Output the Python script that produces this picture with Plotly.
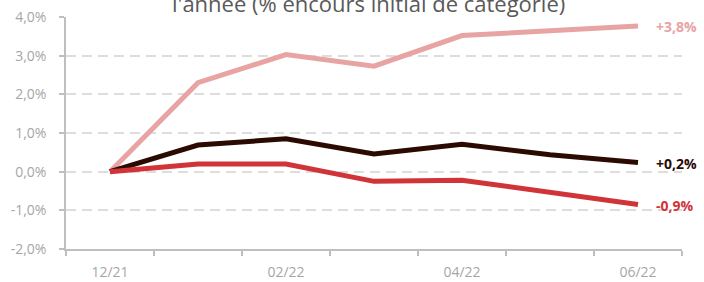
import plotly.graph_objects as go

months = ["12/21", "01/22", "02/22", "03/22", "04/22", "05/22", "06/22"]
tick_labels = ["12/21", "", "02/22", "", "04/22", "", "06/22"]
series_pink = [0.0, 2.30, 3.03, 2.73, 3.52, 3.63, 3.77]
series_dark = [0.0, 0.69, 0.85, 0.46, 0.71, 0.44, 0.24]
series_red = [0.0, 0.20, 0.20, -0.25, -0.22, -0.52, -0.85]
end_labels = ["+3,8%", "+0,2%", "-0,9%"]
y_ticks = [-2, -1, 0, 1, 2, 3, 4]
y_tick_labels = ["-2,0%", "-1,0%", "0,0%", "1,0%", "2,0%", "3,0%", "4,0%"]
title_text = "l'année (% encours initial de catégorie)"

colors = ["#E8A3A3", "#2B0A02", "#D13438"]
font = "Open Sans"

fig = go.Figure()
for vals, col in zip([series_pink, series_dark, series_red], colors):
    fig.add_trace(go.Scatter(x=months, y=vals, mode="lines",
                             line=dict(color=col, width=5), hoverinfo="skip",
                             showlegend=False))

for vals, col, lab in zip([series_pink, series_dark, series_red], colors, end_labels):
    fig.add_annotation(x=months[-1], y=vals[-1], xref="x", yref="y", text="<b>%s</b>" % lab,
                       showarrow=False, xanchor="left", xshift=16, yshift=-1,
                       font=dict(family=font, size=14, color=col))

fig.add_annotation(x=0.5, xref="paper", y=1.0, yref="paper", text=title_text,
                   showarrow=False, xanchor="center", yanchor="bottom", xshift=-6, yshift=-3,
                   font=dict(family=font, size=22, color="#595959"))

fig.update_layout(
    width=704, height=282,
    margin=dict(l=66, r=22, t=17, b=33),
    paper_bgcolor="white", plot_bgcolor="white",
    font=dict(family=font, size=14, color="#A6A6A6"),
)
fig.update_xaxes(type="category", tickvals=months, ticktext=tick_labels,
                 tickson="boundaries", ticks="outside", ticklen=5, tickcolor="#BFBFBF",
                 tickwidth=1.5,
                 showline=True, linecolor="#BFBFBF", linewidth=1.5,
                 showgrid=False, range=[-0.5, 6.5], automargin=False,
                 tickfont=dict(family=font, size=14, color="#A6A6A6"),
                 ticklabelstandoff=9)
fig.update_yaxes(range=[-2, 4], tickvals=y_ticks, ticktext=y_tick_labels,
                 ticks="outside", ticklen=5, tickcolor="#BFBFBF", tickwidth=1.5,
                 showline=True, linecolor="#BFBFBF", linewidth=1.5,
                 showgrid=True, gridcolor="#DDDDDD", griddash="10px,6px", gridwidth=1.5,
                 zeroline=False, automargin=False,
                 tickfont=dict(family=font, size=14, color="#A6A6A6"),
                 ticklabelstandoff=10)

fig.write_html("out.html", config={"displayModeBar": False},
               post_script="document.body.style.margin='0';")
